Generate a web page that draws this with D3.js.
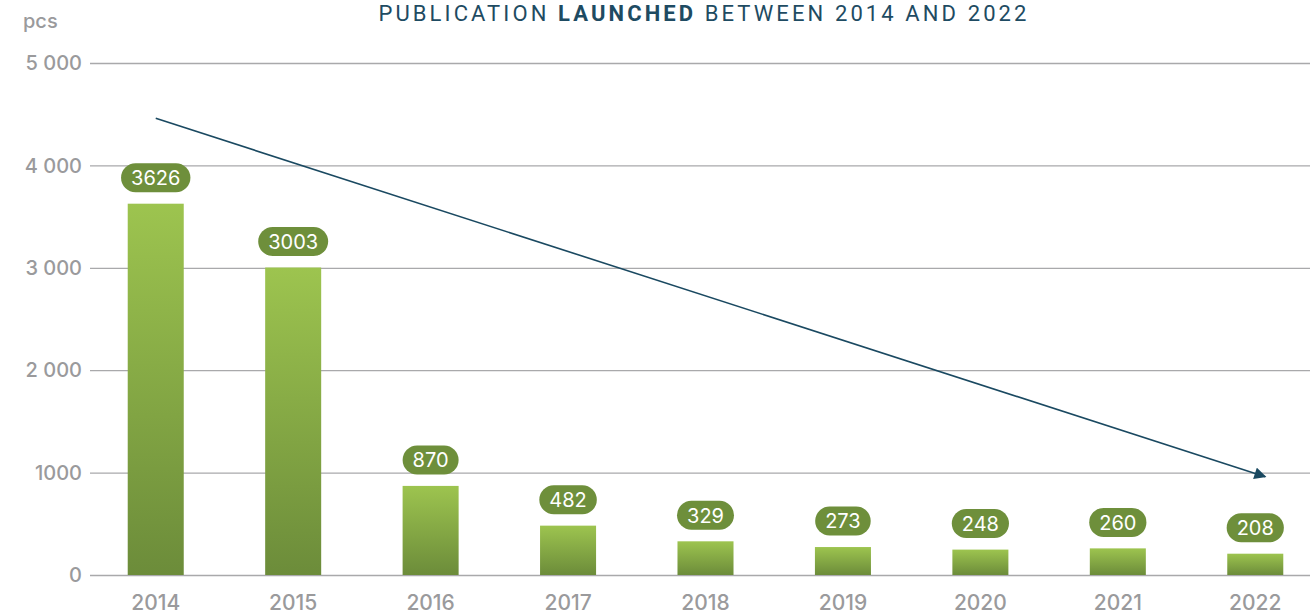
<!DOCTYPE html>
<html>
<head>
<meta charset="utf-8">
<script src="https://cdnjs.cloudflare.com/ajax/libs/d3/7.8.5/d3.min.js"></script>
<style>
  body { margin: 0; background: #fff; }
  svg { display: block; }
  .tick-label { font-family: Inter, "Noto Sans", sans-serif; fill: #9a9a9c; font-size: 20px; font-weight: 500; }
  .title { font-family: Roboto, sans-serif; fill: #1e4b62; font-size: 22px; }
  .pill text { font-family: Inter, "Noto Sans", sans-serif; fill: #fff; font-size: 20px; font-weight: 400; }
</style>
</head>
<body>
<svg id="chart" width="1310" height="614"></svg>
<script>
// data
var years = ["2014", "2015", "2016", "2017", "2018", "2019", "2020", "2021", "2022"];
var launched = [3626, 3003, 870, 482, 329, 273, 248, 260, 208];
var yTicks = [0, 1000, 2000, 3000, 4000, 5000];
var yTickLabels = ["0", "1000", "2 000", "3 000", "4 000", "5 000"];
var trendFrom = { year: "2014", value: 4460 };
var trendTo = { year: "2022", value: 960 };

var width = 1310, height = 614;
margin = { top: 63, bottom: 39, left: 90, right: 0 };
var svg = d3.select("#chart");

var x = d3.scaleBand().domain(years).range([59, 1352]).paddingInner(0.5924).paddingOuter(0.5);
var y = d3.scaleLinear().domain([0, 5000]).range([height - margin.bottom, margin.top]);

// gradient, light on top, dark at the bottom of each bar
var defs = svg.append("defs");
var grad = defs.append("linearGradient").attr("id", "barGrad").attr("x1", 0).attr("y1", 0).attr("x2", 0).attr("y2", 1);
grad.append("stop").attr("offset", "0%").attr("stop-color", "#9dc44f");
grad.append("stop").attr("offset", "100%").attr("stop-color", "#6c8c3a");
defs.append("marker").attr("id", "arrowHead").attr("viewBox", "0 0 10 10").attr("refX", 9).attr("refY", 5)
    .attr("markerWidth", 14).attr("markerHeight", 12).attr("markerUnits", "userSpaceOnUse").attr("orient", "auto")
    .append("path").attr("d", "M0,0 L10,5 L0,10 z").attr("fill", "#1a4961");

// grid lines
var grid = svg.append("g").attr("transform", "translate(" + margin.left + ",0)")
    .call(d3.axisLeft(y).tickValues(yTicks).tickSize(-(width - margin.left)).tickFormat(""));
grid.select(".domain").remove();
grid.selectAll(".tick line").attr("stroke", "#a9a9ab").attr("stroke-width", 1.3);

// y labels
svg.append("g").selectAll("text").data(yTicks).enter().append("text")
    .attr("class", "tick-label")
    .attr("x", 82).attr("y", function(d) { return y(d); })
    .attr("dy", "0.36em").attr("text-anchor", "end")
    .text(function(d, i) { return yTickLabels[i]; });

svg.append("text").attr("class", "tick-label").attr("x", 23).attr("y", 28).text("pcs");

// x labels
svg.append("g").selectAll("text").data(years).enter().append("text")
    .attr("class", "tick-label")
    .attr("x", function(d) { return x(d) + x.bandwidth() / 2; })
    .attr("y", 610).attr("text-anchor", "middle")
    .style("font-size", "21px")
    .text(function(d) { return d; });

// bars
svg.append("g").selectAll("rect").data(launched).enter().append("rect")
    .attr("x", function(d, i) { return x(years[i]); })
    .attr("y", function(d) { return y(d); })
    .attr("width", x.bandwidth())
    .attr("height", function(d) { return y(0) - y(d); })
    .attr("fill", "url(#barGrad)");

// value pills
var pills = svg.append("g").selectAll("g").data(launched).enter().append("g").attr("class", "pill")
    .attr("transform", function(d, i) {
        return "translate(" + (x(years[i]) + x.bandwidth() / 2) + "," + (y(d) - 26) + ")";
    });
pills.append("text").attr("text-anchor", "middle").attr("dy", "0.36em").text(function(d) { return d; });
pills.each(function() {
    var g = d3.select(this);
    var w = g.select("text").node().getComputedTextLength() + 20;
    g.insert("rect", "text").attr("x", -w / 2).attr("y", -14.5).attr("width", w).attr("height", 29)
        .attr("rx", 14.5).attr("fill", "#6e8f3b");
});

// trend arrow
svg.append("line")
    .attr("x1", x(trendFrom.year) + x.bandwidth() / 2).attr("y1", y(trendFrom.value))
    .attr("x2", x(trendTo.year) + x.bandwidth() / 2 + 10).attr("y2", y(trendTo.value))
    .attr("stroke", "#1a4961").attr("stroke-width", 1.6).attr("marker-end", "url(#arrowHead)");

// title
var title = svg.append("text").attr("class", "title").attr("x", 704).attr("y", 20.5).attr("text-anchor", "middle");
title.append("tspan").text("PUBLICATION ");
title.append("tspan").attr("font-weight", "bold").text("LAUNCHED");
title.append("tspan").text(" BETWEEN 2014 AND 2022");
var tw = title.node().getComputedTextLength();
var nChars = title.text().length;
title.style("letter-spacing", ((648 - tw) / (nChars - 1)) + "px");
</script>
</body>
</html>
